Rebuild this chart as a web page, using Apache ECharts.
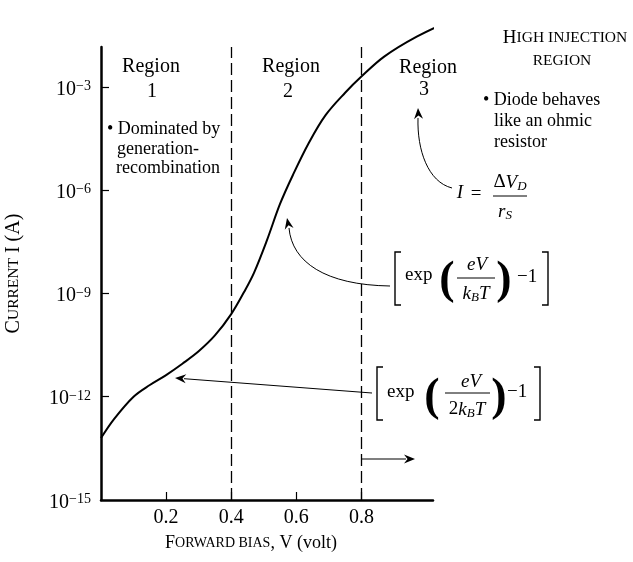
<!DOCTYPE html>
<html>
<head>
<meta charset="utf-8">
<title>Diode forward bias I-V</title>
<script src="https://cdn.jsdelivr.net/npm/echarts@6/dist/echarts.min.js"></script>
<style>
html, body { margin: 0; height: 100%; background: #fff; }
#main { width: 633px; height: 562px; }
</style>
</head>
<body>
<div id="main"></div>
<script>
// forward bias (volt) and log10 of the current (A)
var volts = [0, 0.04, 0.1, 0.15, 0.2, 0.25, 0.3, 0.35, 0.4, 0.44, 0.47, 0.51, 0.55, 0.59, 0.64, 0.69, 0.75, 0.8, 0.87, 0.97, 1.07, 1.2];
var logCurrent = [-13.2, -12.65, -12.0, -11.66, -11.37, -11.04, -10.68, -10.22, -9.6, -8.95, -8.4, -7.45, -6.4, -5.55, -4.6, -3.82, -3.17, -2.7, -2.12, -1.54, -1.1, -0.67];
// region boundaries
var boundaries = [0.4, 0.8];
// ticks
var xTicks = [0.2, 0.4, 0.6, 0.8];
var yLabelExp = [-15, -12, -9, -6, -3];
var yTickExp = [-12, -9, -6, -3];

var SERIF = '"Liberation Serif", "Times New Roman", serif';

var points = volts.map(function (v, i) { return [v, logCurrent[i]]; });

// little helpers for the annotations
function txt(x, y, s, size, extra) {
    var st = { text: s, fontSize: size, fontFamily: SERIF, fill: '#000', align: 'left', verticalAlign: 'middle' };
    for (var k in (extra || {})) st[k] = extra[k];
    return { type: 'text', x: x, y: y, silent: true, style: st };
}
function seg(x1, y1, x2, y2, w) {
    return { type: 'line', silent: true, shape: { x1: x1, y1: y1, x2: x2, y2: y2 }, style: { stroke: '#000', lineWidth: w || 1 } };
}
function bracket(x, top, bot, dir) {
    return { type: 'polyline', silent: true,
        shape: { points: [[x + 6 * dir, top], [x, top], [x, bot], [x + 6 * dir, bot]] },
        style: { stroke: '#000', lineWidth: 1.4, fill: null } };
}
function head(tx, ty, ang) {
    var L = 11, W = 4.5, N = 3.5;
    var dx = Math.cos(ang), dy = Math.sin(ang), nx = -dy, ny = dx;
    return { type: 'polygon', silent: true,
        shape: { points: [[tx, ty], [tx - L * dx + W * nx, ty - L * dy + W * ny], [tx - (L - N) * dx, ty - (L - N) * dy], [tx - L * dx - W * nx, ty - L * dy - W * ny]] },
        style: { fill: '#000' } };
}
function curve(x1, y1, c1x, c1y, c2x, c2y, x2, y2) {
    return { type: 'bezierCurve', silent: true,
        shape: { x1: x1, y1: y1, cpx1: c1x, cpy1: c1y, cpx2: c2x, cpy2: c2y, x2: x2, y2: y2 },
        style: { stroke: '#000', lineWidth: 1, fill: null } };
}

var mathRich = {
    n: { fontSize: 19, fontFamily: SERIF, lineHeight: 20, padding: [0, 0, 2, 0], verticalAlign: 'top' },
    i: { fontSize: 19, fontFamily: SERIF, fontStyle: 'italic', lineHeight: 20, padding: [0, 0, 2, 0], verticalAlign: 'top' },
    sb: { fontSize: 13, fontFamily: SERIF, fontStyle: 'italic', lineHeight: 13, verticalAlign: 'bottom' }
};
function mtxt(x, y, s, align) {
    return txt(x, y, s, 19, { align: align || 'center', rich: mathRich });
}

var graphics = [
    // region titles
    txt(151, 67, 'Region', 20, { align: 'center' }),
    txt(152, 92, '1', 20, { align: 'center' }),
    txt(291, 67, 'Region', 20, { align: 'center' }),
    txt(288, 92, '2', 20, { align: 'center' }),
    txt(428, 68, 'Region', 20, { align: 'center' }),
    txt(424, 90, '3', 20, { align: 'center' }),
    // region 1 note
    txt(107, 129, '\u2022 Dominated by', 18),
    txt(117, 149, 'generation-', 18),
    txt(116, 168, 'recombination', 18),
    // high injection
    txt(565, 38, '{L|H}{S|IGH INJECTION}', 19, { align: 'center', rich: { L: { fontSize: 19, fontFamily: SERIF }, S: { fontSize: 15.5, fontFamily: SERIF } } }),
    txt(562, 61, 'REGION', 15.5, { align: 'center' }),
    txt(483, 100, '\u2022 Diode behaves', 18),
    txt(494, 121, 'like an ohmic', 18),
    txt(494, 142, 'resistor', 18),
    // I = dV_D / r_S
    mtxt(460, 193, '{i|I}'),
    txt(476, 194, '=', 19, { align: 'center' }),
    mtxt(510, 183, '{n|\u0394}{i|V}{sb|D}'),
    seg(493, 196, 527, 196, 1),
    mtxt(505, 212, '{i|r}{sb|S}'),
    curve(452, 188, 428, 182, 417, 150, 418, 118),
    head(418, 108, -Math.PI / 2 - 0.05),
    // [exp(eV/kBT) - 1]
    bracket(395, 252, 305, 1),
    txt(405, 275, 'exp', 19),
    txt(447, 281, '(', 46, { align: 'center', fontWeight: 'bold' }),
    mtxt(477, 265, '{i|eV}'),
    seg(457, 278, 495, 278, 1),
    mtxt(476, 294, '{i|k}{sb|B}{i|T}'),
    txt(504, 281, ')', 46, { align: 'center', fontWeight: 'bold' }),
    txt(517, 277, '\u22121', 19),
    bracket(548, 252, 305, -1),
    curve(390, 286, 325, 285, 292, 262, 289, 228),
    head(287, 218, -Math.PI / 2 - 0.2),
    // [exp(eV/2kBT) - 1]
    bracket(377, 367, 420, 1),
    txt(387, 392, 'exp', 19),
    txt(432, 398, '(', 46, { align: 'center', fontWeight: 'bold' }),
    mtxt(471, 382, '{i|eV}'),
    seg(445, 393, 490, 393, 1),
    mtxt(467, 410, '{n|2}{i|k}{sb|B}{i|T}'),
    txt(499, 398, ')', 46, { align: 'center', fontWeight: 'bold' }),
    txt(507, 392, '\u22121', 19),
    bracket(540, 367, 420, -1),
    seg(372, 393, 184, 378.7, 1),
    head(175, 378, Math.PI + Math.atan2(15, 197)),
    // arrow right of 0.8 V
    seg(361, 459, 406, 459, 1.2),
    head(415, 459, 0)
];

var chart = echarts.init(document.getElementById('main'), null, { renderer: 'canvas' });
chart.setOption({
    animation: false,
    backgroundColor: '#fff',
    grid: { left: 101, right: 200, top: 47, bottom: 62, containLabel: false, outerBoundsMode: 'none' },
    xAxis: {
        type: 'value',
        min: 0,
        max: 1.02,
        interval: 0.2,
        name: '{L|F}{S|ORWARD BIAS}, V (volt)',
        nameLocation: 'middle',
        nameGap: 34,
        nameMoveOverlap: false,
        nameTextStyle: {
            color: '#000', fontFamily: SERIF, fontSize: 18, padding: [0, 32, 0, 0],
            rich: { L: { fontSize: 18, fontFamily: SERIF }, S: { fontSize: 14, fontFamily: SERIF } }
        },
        splitLine: { show: false },
        axisLine: { show: true, onZero: false, lineStyle: { color: '#000', width: 2.5 } },
        axisTick: { show: true, inside: true, length: 8, customValues: xTicks, lineStyle: { color: '#000', width: 1.2 } },
        axisLabel: {
            customValues: xTicks, margin: 8, color: '#000', fontFamily: SERIF, fontSize: 20,
            formatter: function (v) { return v.toFixed(1); }
        }
    },
    yAxis: {
        type: 'value',
        min: -15,
        max: -1.84,
        interval: 3,
        name: '{L|C}{S|URRENT} I (A)',
        nameLocation: 'middle',
        nameRotate: 90,
        nameGap: 77,
        nameMoveOverlap: false,
        nameTextStyle: {
            color: '#000', fontFamily: SERIF, fontSize: 20,
            rich: { L: { fontSize: 20, fontFamily: SERIF }, S: { fontSize: 15.5, fontFamily: SERIF } }
        },
        splitLine: { show: false },
        axisLine: { show: true, onZero: false, lineStyle: { color: '#000', width: 2.5 } },
        axisTick: { show: true, inside: true, length: 8, customValues: yTickExp, lineStyle: { color: '#000', width: 1.2 } },
        axisLabel: {
            customValues: yLabelExp, margin: 10, color: '#000', fontFamily: SERIF,
            padding: [5, 0, 0, 0],
            formatter: function (v) { return '{b|10}{s|\u2212' + (-v) + '}'; },
            rich: {
                b: { fontSize: 20, fontFamily: SERIF, lineHeight: 20, padding: [4, 0, 0, 0], verticalAlign: 'bottom' },
                s: { fontSize: 14, fontFamily: SERIF, lineHeight: 14, verticalAlign: 'top' }
            }
        }
    },
    series: [{
        type: 'line',
        data: points,
        smooth: 0.35,
        clip: false,
        showSymbol: false,
        symbol: 'none',
        lineStyle: { color: '#000', width: 2 },
        markLine: {
            silent: true,
            symbol: 'none',
            label: { show: false },
            lineStyle: { color: '#000', width: 1.3, type: [12, 5] },
            data: boundaries.map(function (b) { return { xAxis: b }; })
        }
    }],
    graphic: graphics
});
</script>
</body>
</html>
